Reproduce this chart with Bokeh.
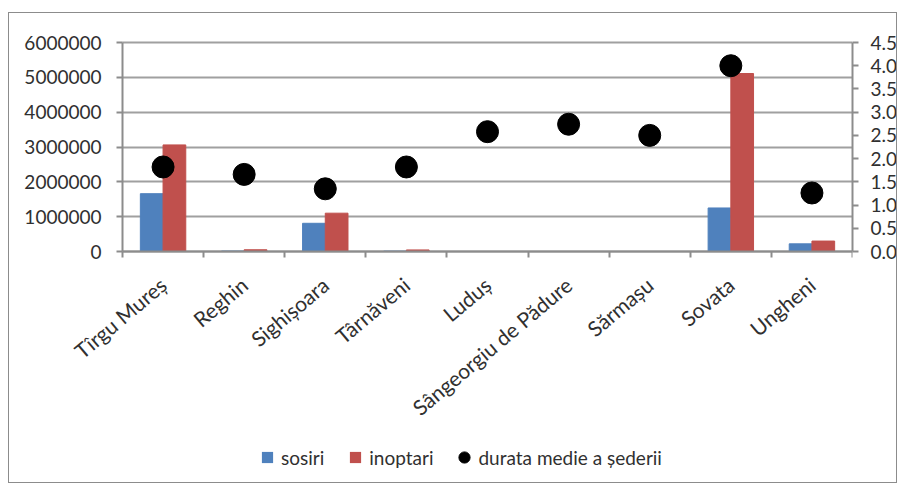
import math
from bokeh.plotting import figure
from bokeh.models import (ColumnDataSource, Range1d, LinearAxis, FixedTicker,
                          NumeralTickFormatter, Legend, LegendItem)
from bokeh.embed import file_html
from bokeh.resources import INLINE

cities = ["Tîrgu Mureș", "Reghin", "Sighișoara", "Târnăveni", "Luduș",
          "Sângeorgiu de Pădure", "Sărmașu", "Sovata", "Ungheni"]
sosiri = [1660000, 12000, 810000, 10000, 0, 0, 0, 1250000, 220000]
inoptari = [3060000, 50000, 1100000, 45000, 0, 0, 0, 5110000, 300000]
durata = [1.82, 1.66, 1.35, 1.82, 2.58, 2.74, 2.50, 4.00, 1.26]
left_ticks = [0, 1000000, 2000000, 3000000, 4000000, 5000000, 6000000]
right_ticks = [0.0, 0.5, 1.0, 1.5, 2.0, 2.5, 3.0, 3.5, 4.0, 4.5]

BLUE = "#4f81bd"
RED = "#c0504d"
GRID = "#a0a0a0"
AXIS = "#8c8c8c"
FONT = "Lato"
TXT = "#303030"

# layout: the plotting band (730 x 209 px) sits inside a larger frame that
# also holds the left tick labels, the category labels and the legend
BAND_W, BAND_H = 730, 209
EXTRA_L, EXTRA_T, FRAME_H = 101, 12, 452
L_MAX = left_ticks[-1]
R_MAX = right_ticks[-1]
below = (FRAME_H - EXTRA_T - BAND_H) / BAND_H
above = EXTRA_T / BAND_H

n = len(cities)
left_pad = EXTRA_L / BAND_W * n
centers = [i + 0.5 for i in range(n)]
bw = 0.28
src = ColumnDataSource(dict(
    xb=[c - bw / 2 for c in centers],
    xr=[c + bw / 2 for c in centers],
    xc=centers,
    sosiri=sosiri, inoptari=inoptari, durata=durata,
))

p = figure(frame_width=BAND_W + EXTRA_L, frame_height=FRAME_H,
           output_backend="svg", toolbar_location=None,
           x_range=Range1d(-left_pad, n),
           y_range=Range1d(-below * L_MAX, (1 + above) * L_MAX),
           min_border_left=12, min_border_right=40, min_border_top=17,
           min_border_bottom=0)
p.margin = (12, 0, 0, 8)
p.styles = {"border": "1.5px solid #8c8c8c", "box-sizing": "border-box",
            "width": "889px", "height": "471px", "overflow": "hidden"}
p.outline_line_color = None
p.background_fill_color = "white"
p.border_fill_color = "white"
p.border_fill_alpha = 0

p.extra_y_ranges = {"right": Range1d(-below * R_MAX, (1 + above) * R_MAX)}

r_b = p.vbar(x="xb", top="sosiri", width=bw, source=src, color=BLUE)
r_r = p.vbar(x="xr", top="inoptari", width=bw, source=src, color=RED)
r_d = p.scatter(x="xc", y="durata", source=src, y_range_name="right",
                size=22, color="black")

# legend keys: zero-size square markers (only their legend swatch shows)
lg_b = p.scatter(x="xb", y="sosiri", source=src, marker="square", size=0,
                 fill_color=BLUE, line_color=None)
lg_r = p.scatter(x="xr", y="inoptari", source=src, marker="square", size=0,
                 fill_color=RED, line_color=None)

# left axis, pinned at the left edge of the category band
ya = p.yaxis[0]
ya.fixed_location = 0
ya.ticker = FixedTicker(ticks=left_ticks)
ya.formatter = NumeralTickFormatter(format="0")
ya.bounds = (0, L_MAX)
ya.major_tick_out = 6
ya.major_tick_in = 0
ya.minor_tick_out = 0
ya.minor_tick_in = 0
ya.axis_line_color = AXIS
ya.axis_line_width = 2
ya.major_tick_line_color = AXIS
ya.major_tick_line_width = 2
ya.major_label_text_font = FONT
ya.major_label_text_font_size = "19px"
ya.major_label_text_color = TXT
ya.major_label_standoff = 15

# right axis
ra = LinearAxis(y_range_name="right", ticker=FixedTicker(ticks=right_ticks),
                formatter=NumeralTickFormatter(format="0.0"))
ra.bounds = (0, R_MAX)
ra.major_tick_out = 6
ra.major_tick_in = 0
ra.minor_tick_out = 0
ra.minor_tick_in = 0
ra.axis_line_color = AXIS
ra.axis_line_width = 2
ra.major_tick_line_color = AXIS
ra.major_tick_line_width = 2
ra.major_label_text_font = FONT
ra.major_label_text_font_size = "19px"
ra.major_label_text_color = TXT
ra.major_label_standoff = 12
p.add_layout(ra, "right")

# bottom axis, pinned at zero
xa = p.xaxis[0]
xa.fixed_location = 0
xa.bounds = (0, n)
xa.ticker = FixedTicker(ticks=centers, minor_ticks=list(range(n + 1)))
xa.major_label_overrides = {c: name for c, name in zip(centers, cities)}
xa.major_label_orientation = math.radians(40)
xa.major_tick_out = 0
xa.major_tick_in = 0
xa.minor_tick_out = 6
xa.minor_tick_in = 0
xa.minor_tick_line_color = AXIS
xa.minor_tick_line_width = 2
xa.axis_line_color = AXIS
xa.axis_line_width = 2
xa.major_label_text_font = FONT
xa.major_label_text_font_size = "21px"
xa.major_label_text_color = TXT
xa.major_label_standoff = 24

p.xgrid.grid_line_color = None
p.ygrid.ticker = FixedTicker(ticks=left_ticks)
p.ygrid.cross_bounds = (0, n)
p.ygrid.grid_line_color = GRID
p.ygrid.grid_line_width = 2

legend = Legend(items=[
    LegendItem(label="sosiri", renderers=[lg_b]),
    LegendItem(label="inoptari", renderers=[lg_r]),
    LegendItem(label="durata medie a șederii", renderers=[r_d]),
], orientation="horizontal", location=(232, 11))
legend.label_text_font = FONT
legend.label_text_font_size = "19px"
legend.label_text_color = TXT
legend.glyph_width = 28
legend.glyph_height = 28
legend.label_standoff = 0
legend.spacing = 17
legend.padding = 0
legend.margin = 0
legend.border_line_color = None
legend.background_fill_alpha = 0
p.add_layout(legend, "center")

open("out.html", "w").write(file_html(p, INLINE))
